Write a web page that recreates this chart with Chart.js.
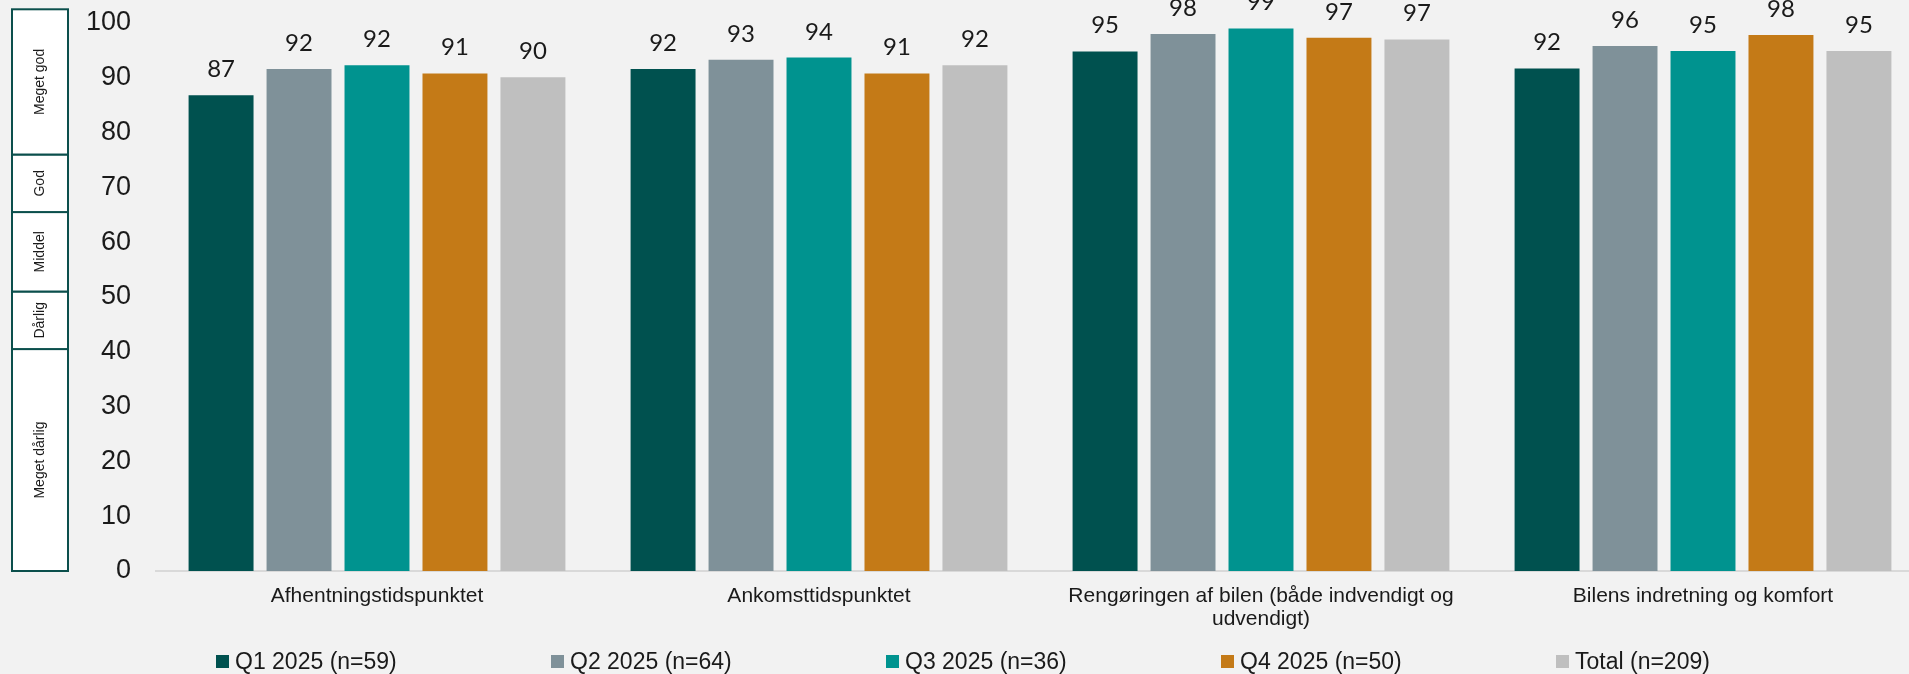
<!DOCTYPE html>
<html>
<head>
<meta charset="utf-8">
<script src="https://cdn.jsdelivr.net/npm/chart.js@4.4.1/dist/chart.umd.min.js"></script>
<style>
    html, body { margin: 0; padding: 0; background: #f2f2f2; overflow: hidden; }
    #wrap { position: relative; width: 1925px; height: 674px; }
    #legend {
        position: absolute; left: 216px; top: 649px;
        display: flex; font-family: "Liberation Sans", Arial, sans-serif;
        font-size: 23px; color: #1a1a1a; line-height: 24px;
    }
    #legend .item { width: 335px; display: flex; align-items: center; white-space: nowrap; }
    #legend .box { width: 13px; height: 13px; margin-right: 6px; }
</style>
</head>
<body>
<div id="wrap">
    <canvas id="barChart" width="1925" height="674"></canvas>
    <div id="legend"></div>
</div>
<script>
// Categories and series
const categories = [
    'Afhentningstidspunktet',
    'Ankomsttidspunktet',
    ['Rengøringen af bilen (både indvendigt og', 'udvendigt)'],
    'Bilens indretning og komfort'
];
const seriesNames = ['Q1 2025 (n=59)', 'Q2 2025 (n=64)', 'Q3 2025 (n=36)', 'Q4 2025 (n=50)', 'Total (n=209)'];
const q1Values = [86.8, 91.6, 94.8, 91.7];
const q2Values = [91.6, 93.3, 98.0, 95.8];
const q3Values = [92.3, 93.7, 99.0, 94.9];
const q4Values = [90.8, 90.8, 97.3, 97.8];
const totalValues = [90.1, 92.3, 97.0, 94.9];
const seriesColors = ['#00514f', '#7f9199', '#00938f', '#c47a17', '#bfbfbf'];

// Rating bands on the left side (value limits, bottom to top)
const bandNames = ['Meget dårlig', 'Dårlig', 'Middel', 'God', 'Meget god'];
const bandLimits = [0, 40.5, 51, 65.5, 76, 102.5];

const yTicks = [0, 10, 20, 30, 40, 50, 60, 70, 80, 90, 100];

const allValues = [q1Values, q2Values, q3Values, q4Values, totalValues];

// Draw the rating band boxes left of the y axis
const bandPlugin = {
    id: 'bandBoxes',
    afterDraw(chart) {
        const ctx = chart.ctx;
        const y = chart.scales.y;
        const left = 12, right = 68;
        ctx.save();
        for (let i = 0; i < bandNames.length; i++) {
            const bottom = y.getPixelForValue(bandLimits[i]);
            const top = y.getPixelForValue(bandLimits[i + 1]);
            ctx.fillStyle = '#ffffff';
            ctx.fillRect(left, top, right - left, bottom - top);
            ctx.strokeStyle = '#0b4f4c';
            ctx.lineWidth = 2;
            ctx.strokeRect(left, top, right - left, bottom - top);
            ctx.save();
            ctx.translate((left + right) / 2, (top + bottom) / 2);
            ctx.rotate(-Math.PI / 2);
            ctx.fillStyle = '#1a1a1a';
            ctx.font = '14px "Liberation Sans", Arial, sans-serif';
            ctx.textAlign = 'center';
            ctx.textBaseline = 'middle';
            ctx.fillText(bandNames[i], 0, 0);
            ctx.restore();
        }
        ctx.restore();
    }
};

// Value labels above the bars
const valueLabelPlugin = {
    id: 'valueLabels',
    afterDatasetsDraw(chart) {
        const ctx = chart.ctx;
        ctx.save();
        ctx.fillStyle = '#1a1a1a';
        ctx.font = '24px Lato, "Noto Sans", sans-serif';
        ctx.textAlign = 'center';
        ctx.textBaseline = 'alphabetic';
        chart.data.datasets.forEach((ds, di) => {
            chart.getDatasetMeta(di).data.forEach((bar, i) => {
                ctx.fillText(String(Math.round(ds.data[i])), bar.x, bar.y - 18);
            });
        });
        ctx.restore();
    }
};

const ctx = document.getElementById('barChart').getContext('2d');
const barChart = new Chart(ctx, {
    type: 'bar',
    data: {
        labels: categories,
        datasets: seriesNames.map((name, i) => ({
            label: name,
            data: allValues[i],
            backgroundColor: seriesColors[i],
            categoryPercentage: 0.882,
            barPercentage: 0.833
        }))
    },
    options: {
        responsive: false,
        animation: false,
        layout: { padding: { left: 80, right: 1, top: 23, bottom: 43 } },
        plugins: {
            legend: { display: false },
            tooltip: { enabled: false }
        },
        scales: {
            x: {
                grid: { display: false, drawTicks: false },
                border: { display: true, color: '#d9d9d9', width: 2 },
                ticks: {
                    color: '#1a1a1a',
                    padding: 14,
                    maxRotation: 0,
                    autoSkip: false,
                    font: { family: '"Liberation Sans", Arial, sans-serif', size: 21, lineHeight: 1.1 }
                },
                afterFit(scale) { scale.height = 60; }
            },
            y: {
                min: 0,
                max: 100,
                grid: { display: false, drawTicks: false },
                border: { display: false },
                afterBuildTicks(scale) { scale.ticks = yTicks.map(v => ({ value: v })); },
                ticks: {
                    color: '#1a1a1a',
                    padding: 25,
                    font: { family: '"Liberation Sans", Arial, sans-serif', size: 27 }
                },
                afterFit(scale) {
                    scale.width = 76;
                    scale.paddingTop = 0;
                    scale.paddingBottom = 0;
                }
            }
        }
    },
    plugins: [bandPlugin, valueLabelPlugin]
});

// HTML legend
const legendEl = document.getElementById('legend');
barChart.data.datasets.forEach(ds => {
    const item = document.createElement('div');
    item.className = 'item';
    const box = document.createElement('span');
    box.className = 'box';
    box.style.background = ds.backgroundColor;
    const text = document.createElement('span');
    text.textContent = ds.label;
    item.appendChild(box);
    item.appendChild(text);
    legendEl.appendChild(item);
});
</script>
</body>
</html>
